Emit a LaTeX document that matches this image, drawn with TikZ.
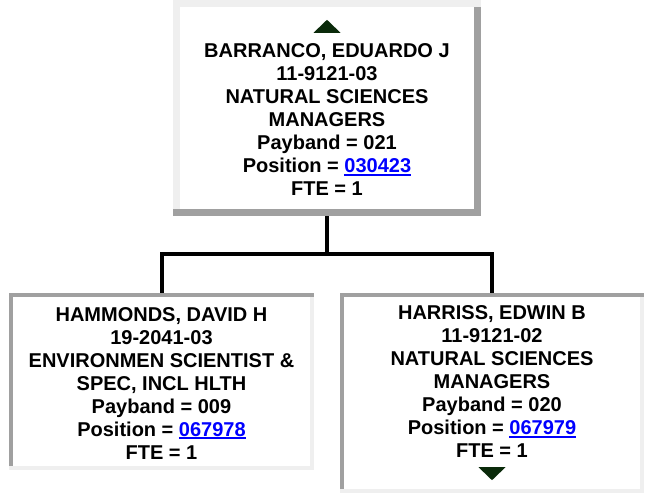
\documentclass[tikz,border=0pt]{standalone}
\usepackage{fontspec}
\setmainfont{Liberation Sans}
\usetikzlibrary{positioning}
\definecolor{bevellight}{HTML}{EFEFEF}
\definecolor{beveldark}{HTML}{A0A0A0}
\definecolor{linkblue}{HTML}{0000FF}
\definecolor{arrowgreen}{HTML}{0A2A0A}
\newcommand\poslink[1]{{\color{linkblue}\setbox0\hbox{#1}\rlap{\rule[-2.6pt]{\wd0}{1.7pt}}\box0}}
\newcommand\bevelbox[4]{\fill[#3] ([xshift=-#4]#1.north east) rectangle (#1.south east);\fill[#2] (#1.north west) rectangle ([xshift=#4]#1.south west);\fill[#3] (#1.south west) rectangle ([yshift=#4]#1.south east);\fill[#2] (#1.north west) rectangle ([yshift=-#4]#1.north east);}
\tikzset{cardframe/.style={rectangle,fill=white,inner sep=0pt},
  cardtext/.style={anchor=north,inner sep=0pt,align=center,font=\fontsize{20}{23}\selectfont\bfseries},
  orgline/.style={line width=4pt,black}}
\begin{document}
\begin{tikzpicture}[x=1pt,y=1pt]
\useasboundingbox[fill=white] (0,0) rectangle (645,-497);
% frames
\node[cardframe,minimum width=308pt,minimum height=216pt] (chief) at (327,-108) {};
\node[cardframe,minimum width=305pt,minimum height=177pt] (subA) at (161.5,-381.5) {};
\node[cardframe,minimum width=304pt,minimum height=200pt] (subB) at (492,-393) {};
\bevelbox{chief}{bevellight}{beveldark}{7.5pt}
\bevelbox{subA}{beveldark}{bevellight}{4.5pt}
\bevelbox{subB}{beveldark}{bevellight}{4.5pt}
% texts
\node[cardtext,below=44pt of chief.north] (chieftext) {BARRANCO, EDUARDO J\\11-9121-03\\NATURAL SCIENCES\\MANAGERS\\Payband = 021\\Position = \poslink{030423}\\FTE = 1};
\node[cardtext,below=14.5pt of subA.north] (subAtext) {HAMMONDS, DAVID H\\19-2041-03\\ENVIRONMEN SCIENTIST \&\\SPEC, INCL HLTH\\Payband = 009\\Position = \poslink{067978}\\FTE = 1};
\node[cardtext,below=13pt of subB.north] (subBtext) {HARRISS, EDWIN B\\11-9121-02\\NATURAL SCIENCES\\MANAGERS\\Payband = 020\\Position = \poslink{067979}\\FTE = 1};
% up / down markers
\fill[arrowgreen] ([shift={(-13.5,-33)}]chief.north) -- ([shift={(13.5,-33)}]chief.north) -- ([yshift=-20pt]chief.north) -- cycle;
\fill[arrowgreen] ([shift={(-13.5,26)}]subB.south) -- ([shift={(13.5,26)}]subB.south) -- ([yshift=13pt]subB.south) -- cycle;
% connectors
\draw[orgline] (chief.south) -- ++(0,-38) -| (subA.north);
\draw[orgline] (chief.south) -- ++(0,-38) -| (subB.north);
\end{tikzpicture}
\end{document}
